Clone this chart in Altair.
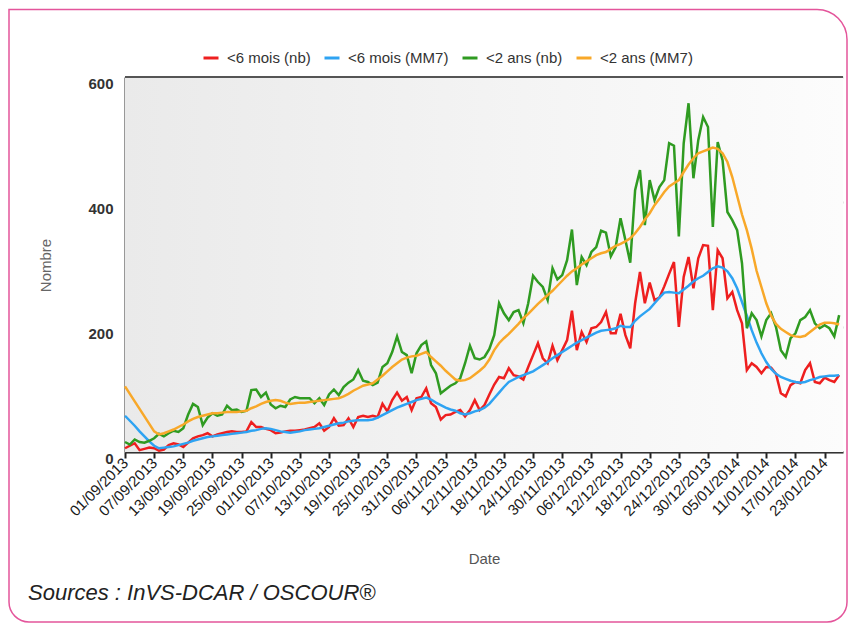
import altair as alt
import pandas as pd

start_date = "2013-09-01"
n_days = 148

series_names = ["<6 mois (nb)", "<6 mois (MM7)", "<2 ans (nb)", "<2 ans (MM7)"]
series_colors = ["#ee1f1f", "#2ea3f2", "#2f9b21", "#f8a829"]

red = [6, 10, 14, 3, 5, 7, 6, 2, 4, 11,
       14, 12, 8, 15, 22, 25, 27, 30, 25, 28,
       30, 32, 33, 32, 32, 33, 48, 40, 40, 37,
       35, 30, 31, 33, 34, 34, 35, 36, 38, 40,
       46, 34, 40, 54, 42, 43, 54, 40, 56, 58,
       56, 58, 56, 77, 65, 83, 95, 82, 88, 67,
       86, 88, 102, 78, 72, 52, 59, 60, 64, 67,
       57, 67, 83, 67, 75, 92, 108, 120, 118, 134,
       123, 121, 116, 136, 155, 174, 150, 142, 170, 147,
       163, 179, 226, 163, 192, 176, 198, 200, 208, 224,
       190, 190, 221, 187, 166, 238, 288, 238, 271, 243,
       247, 265, 285, 304, 200, 280, 312, 262, 310, 331,
       330, 227, 323, 310, 246, 256, 227, 206, 131, 142,
       136, 126, 136, 135, 125, 94, 89, 107, 112, 110,
       131, 142, 112, 110, 119, 115, 112, 123]

blue = [58, 50, 42, 33, 25, 17, 10, 6, 7, 8,
        9, 11, 13, 15, 18, 20, 22, 24, 25, 26,
        27, 28, 29, 30, 31, 32, 34, 35, 37, 38,
        37, 35, 33, 32, 31, 32, 33, 35, 36, 37,
        38, 40, 42, 44, 46, 47, 49, 50, 51, 51,
        51, 52, 55, 59, 63, 67, 71, 74, 77, 80,
        83, 85, 87, 84, 79, 75, 71, 68, 66, 62,
        60, 62, 65, 67, 71, 77, 86, 95, 104, 112,
        116, 120, 123, 126, 129, 134, 139, 144, 150, 155,
        160, 165, 170, 175, 179, 183, 187, 191, 194, 195,
        196, 198, 202, 200, 200, 210, 217, 223, 229, 238,
        247, 255, 256, 255, 254, 260, 266, 273, 278, 282,
        288, 294, 297, 295, 289, 278, 262, 240, 218, 195,
        175, 158, 144, 133, 125, 120, 117, 114, 112, 111,
        112, 115, 117, 120, 121, 122, 122, 123]

green = [16, 12, 20, 16, 15, 18, 22, 29, 25, 30,
         34, 32, 38, 60, 77, 72, 43, 55, 62, 58,
         60, 74, 67, 68, 64, 66, 99, 100, 88, 95,
         76, 70, 74, 72, 84, 88, 86, 86, 86, 78,
         86, 75, 92, 100, 91, 104, 111, 116, 131, 114,
         112, 107, 111, 136, 142, 160, 185, 160, 155, 126,
         158, 171, 177, 139, 126, 94, 100, 106, 110, 118,
         142, 170, 150, 148, 152, 165, 187, 238, 222, 211,
         224, 227, 206, 238, 282, 272, 264, 243, 294, 276,
         283, 307, 356, 267, 312, 299, 320, 328, 354, 351,
         313, 328, 374, 339, 303, 419, 451, 363, 435, 403,
         424, 435, 494, 490, 345, 494, 558, 438, 499, 536,
         520, 360, 496, 467, 384, 371, 355, 302, 198, 222,
         211, 185, 211, 222, 200, 163, 152, 182, 190, 211,
         216, 227, 206, 198, 203, 198, 185, 219]

orange = [105, 93, 81, 69, 57, 45, 33, 28, 30, 33,
          36, 40, 44, 49, 53, 56, 58, 60, 62, 62,
          63, 64, 64, 64, 65, 66, 70, 73, 77, 80,
          82, 83, 82, 79, 77, 78, 79, 79, 80, 81,
          82, 83, 84, 85, 86, 89, 93, 98, 102, 106,
          108, 110, 116, 122, 129, 136, 142, 148, 151, 153,
          154, 157, 160, 152, 145, 138, 130, 123, 116, 114,
          115, 118, 124, 130, 137, 148, 163, 174, 182, 189,
          197, 205, 214, 221, 229, 237, 244, 251, 258, 266,
          274, 282, 289, 294, 300, 305, 310, 315, 318, 320,
          325, 330, 333, 337, 342, 350, 360, 372, 382, 395,
          405, 416, 425, 430, 435, 448, 460, 470, 478, 481,
          484, 487, 485, 478, 464, 440, 410, 380, 355, 325,
          290, 264, 238, 218, 205, 197, 192, 187, 185, 184,
          186, 192, 198, 204, 207, 207, 206, 204]

tick_labels = ["01/09/2013", "07/09/2013", "13/09/2013", "19/09/2013", "25/09/2013",
               "01/10/2013", "07/10/2013", "13/10/2013", "19/10/2013", "25/10/2013",
               "31/10/2013", "06/11/2013", "12/11/2013", "18/11/2013", "24/11/2013",
               "30/11/2013", "06/12/2013", "12/12/2013", "18/12/2013", "24/12/2013",
               "30/12/2013", "05/01/2014", "11/01/2014", "17/01/2014", "23/01/2014"]
y_ticks = [0, 200, 400, 600]
source_text = "Sources : InVS-DCAR / OSCOUR®"

dates = pd.date_range(start_date, periods=n_days, freq="D").strftime("%Y-%m-%d")
rows = []
for name, vals in zip(series_names, [red, blue, green, orange]):
    for d, v in zip(dates, vals):
        rows.append({"date": d, "serie": name, "valeur": v})
df = pd.DataFrame(rows)


def to_dt(s):
    dd, mm, yy = (int(p) for p in s.split("/"))
    return alt.DateTime(year=yy, month=mm, date=dd, utc=True)


tick_values = [to_dt(s) for s in tick_labels]
x_domain = [alt.DateTime(year=2013, month=9, date=1, utc=True),
            alt.DateTime(year=2014, month=1, date=26, hours=19, utc=True)]

FONT = "Liberation Sans"
W, H = 718, 375

one = alt.Data(values=[{}])

background = alt.Chart(one).mark_rect(
    color=alt.LinearGradient(
        gradient="linear",
        stops=[alt.GradientStop(color="#eaeaea", offset=0),
               alt.GradientStop(color="#fcfcfc", offset=1)],
        x1=0, x2=1, y1=0, y2=0,
    )
).encode(x=alt.value(0), x2=alt.value(W), y=alt.value(0), y2=alt.value(H))

frame = alt.Chart(one).mark_rect(
    fill="white", fillOpacity=0, stroke="#e4559b", strokeWidth=1.5,
    cornerRadiusTopRight=30, cornerRadiusBottomLeft=20, cornerRadiusBottomRight=20,
).encode(x=alt.value(-116), x2=alt.value(722), y=alt.value(-67.5), y2=alt.value(545))

source = alt.Chart(one).mark_text(
    text=source_text, align="left", baseline="middle", font=FONT,
    fontSize=22, fontStyle="italic", color="#222",
).encode(x=alt.value(-97), y=alt.value(516))

x_enc = alt.X(
    "date:T",
    scale=alt.Scale(type="utc", domain=x_domain),
    axis=alt.Axis(
        values=tick_values, format="%d/%m/%Y", labelAngle=-45,
        labelAlign="right", labelBaseline="middle", labelFont=FONT,
        labelFontSize=15, labelColor="#1a1a1a", labelOverlap=False, labelFlush=False,
        labelPadding=2, tickColor="#222", tickSize=6, tickWidth=2,
        domainColor="#333", domainWidth=2, grid=False,
        title="Date", titleFont=FONT, titleFontSize=15, titleFontWeight="normal",
        titleColor="#555", titleX=359, titleY=106, titleAlign="center",
        titleBaseline="middle",
    ),
)

y_enc = alt.Y(
    "valeur:Q",
    scale=alt.Scale(domain=[0, 600], nice=False),
    axis=alt.Axis(
        values=y_ticks, labelFont=FONT, labelFontSize=15, labelFontWeight="bold",
        labelColor="#333", labelPadding=12, labelOffset=6, ticks=False,
        domainColor="#333", domainWidth=2, gridColor="#cccccc", gridWidth=2,
        title="Nombre", titleFont=FONT, titleFontSize=15, titleFontWeight="normal",
        titleColor="#666", titleX=-80, titleY=188, titleAngle=-90,
        titleAlign="center", titleBaseline="middle",
    ),
)

lines = alt.Chart(df).mark_line(strokeWidth=2.5).encode(
    x=x_enc,
    y=y_enc,
    color=alt.Color(
        "serie:N",
        scale=alt.Scale(domain=series_names, range=series_colors),
        sort=series_names,
        legend=alt.Legend(
            title=None, orient="none", legendX=77, legendY=-28,
            direction="horizontal", symbolType="stroke", symbolSize=225,
            symbolStrokeWidth=3, labelFont=FONT, labelFontSize=15,
            labelColor="#333", labelOffset=7, columnPadding=7,
        ),
    ),
    order=alt.Order("serie:N"),
)

top_line = alt.Chart(one).mark_rule(color="#555", strokeWidth=2).encode(
    y=alt.datum(600)
)

chart = alt.layer(background, lines, top_line, frame, source).properties(
    width=W, height=H,
    autosize=alt.AutoSizeParams(type="none"),
    padding={"left": 117, "top": 69, "right": 5, "bottom": 171},
    background="white",
).configure_view(stroke=None)

chart.save("out.html", embed_options={"renderer": "svg", "actions": False})
